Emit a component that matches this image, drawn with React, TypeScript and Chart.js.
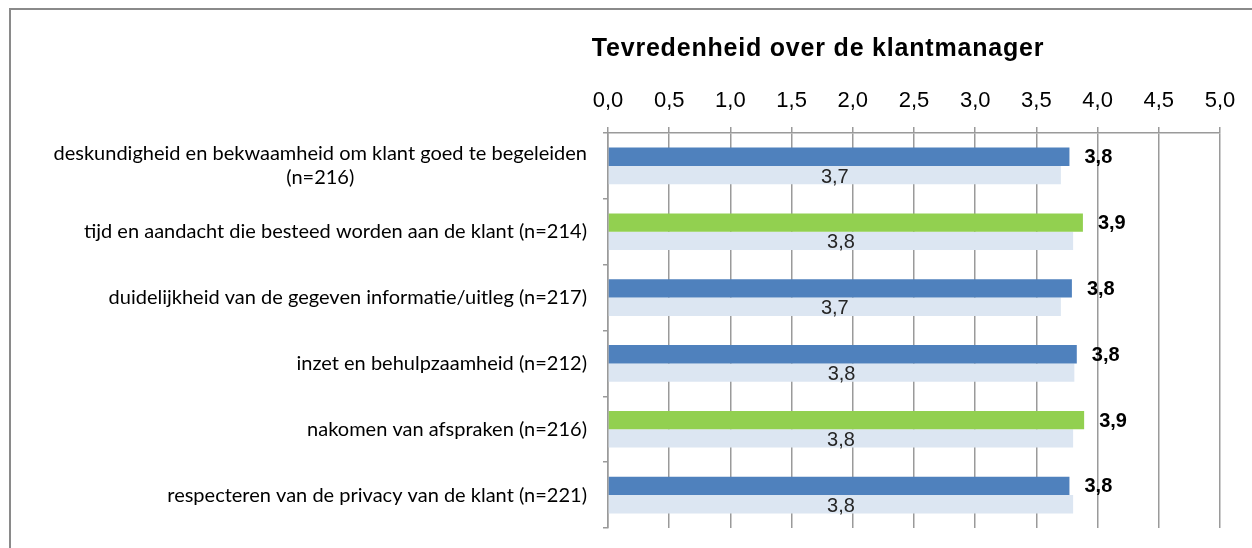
import React, { useEffect, useRef } from 'react';
import { Chart, registerables } from 'chart.js';

Chart.register(...registerables);

const TITLE = 'Tevredenheid over de klantmanager';

const categories: string[][] = [
  ['deskundigheid en bekwaamheid om klant goed te begeleiden', '(n=216)'],
  ['tijd en aandacht die besteed worden aan de klant (n=214)'],
  ['duidelijkheid van de gegeven informatie/uitleg (n=217)'],
  ['inzet en behulpzaamheid (n=212)'],
  ['nakomen van afspraken (n=216)'],
  ['respecteren van de privacy van de klant (n=221)'],
];

const currentScores = [3.77, 3.88, 3.79, 3.83, 3.89, 3.77];
const previousScores = [3.7, 3.8, 3.7, 3.81, 3.8, 3.8];
const highlightedCategories = [1, 4];

const axisMin = 0;
const axisMax = 5;
const axisStep = 0.5;

const BLUE = '#4F81BD';
const GREEN = '#92D050';
const LIGHT = '#DCE6F2';
const GRID = '#9a9a9a';
const LABEL_FONT = 'Lato, "Liberation Sans", sans-serif';
const ARIAL = '"Liberation Sans", Arial, sans-serif';

const fmt = (v: number) => v.toFixed(1).replace('.', ',');

const overlayPlugin = {
  id: 'overlay',
  afterDraw(chart: any) {
    const ctx = chart.ctx as CanvasRenderingContext2D;
    const area = chart.chartArea;
    const yScale = chart.scales.y;
    ctx.save();

    // title
    ctx.font = `bold 25px ${ARIAL}`;
    (ctx as any).letterSpacing = '0.8px';
    ctx.fillStyle = '#000';
    ctx.textAlign = 'center';
    ctx.textBaseline = 'middle';
    ctx.fillText(TITLE, 818, 49);
    (ctx as any).letterSpacing = '0px';

    // category labels: block right aligned, lines centered inside block
    ctx.font = `20px ${LABEL_FONT}`;
    const lineH = 24;
    const rightEdge = area.left - 21;
    categories.forEach((lines, i) => {
      const yc = yScale.getPixelForValue(i);
      const widths = lines.map((l) => ctx.measureText(l).width);
      const blockW = Math.max(...widths);
      const cx = rightEdge - blockW / 2;
      const y0 = yc - ((lines.length - 1) * lineH) / 2;
      ctx.textAlign = 'center';
      ctx.textBaseline = 'middle';
      lines.forEach((l, j) => ctx.fillText(l, cx, y0 + j * lineH));
    });

    // data labels
    const m0 = chart.getDatasetMeta(0);
    m0.data.forEach((bar: any, i: number) => {
      ctx.font = `bold 20px ${ARIAL}`;
      ctx.fillStyle = '#000';
      ctx.textAlign = 'left';
      ctx.textBaseline = 'middle';
      ctx.fillText(fmt(currentScores[i]), bar.x + 15, bar.y + 1);
    });
    const m1 = chart.getDatasetMeta(1);
    m1.data.forEach((bar: any, i: number) => {
      ctx.font = `20px ${ARIAL}`;
      ctx.fillStyle = '#262626';
      ctx.textAlign = 'center';
      ctx.textBaseline = 'middle';
      ctx.fillText(fmt(previousScores[i]), (bar.x + bar.base) / 2, bar.y + 2);
    });
    ctx.restore();
  },
};

export default function App() {
  const ref = useRef<HTMLCanvasElement | null>(null);

  useEffect(() => {
    if (!ref.current) return;
    const chart = new Chart(ref.current, {
      type: 'bar',
      data: {
        labels: categories.map((c) => c.join(' ')),
        datasets: [
          {
            label: 'huidig',
            data: currentScores,
            backgroundColor: currentScores.map((_, i) =>
              highlightedCategories.includes(i) ? GREEN : BLUE
            ),
            borderWidth: 0,
            categoryPercentage: 0.556,
            barPercentage: 1,
          },
          {
            label: 'vorig',
            data: previousScores,
            backgroundColor: LIGHT,
            borderWidth: 0,
            categoryPercentage: 0.556,
            barPercentage: 1,
          },
        ],
      },
      options: {
        indexAxis: 'y',
        responsive: false,
        animation: false,
        layout: { padding: { left: 0, top: 0, right: 32, bottom: 20 } },
        plugins: {
          legend: { display: false },
          title: { display: false },
          tooltip: { enabled: false },
        },
        scales: {
          x: {
            position: 'top',
            min: axisMin,
            max: axisMax,
            afterFit: (s: any) => {
              s.height = 133;
            },
            ticks: {
              stepSize: axisStep,
              padding: 13,
              color: '#000',
              font: { family: ARIAL, size: 22 },
              callback: (v: any) => fmt(Number(v)),
            },
            grid: {
              color: GRID,
              lineWidth: 1.5,
              tickLength: 6,
              drawTicks: true,
            },
            border: { display: true, color: GRID, width: 1.5 },
          },
          y: {
            afterFit: (s: any) => {
              s.width = 608;
            },
            ticks: { display: false },
            grid: {
              offset: true,
              drawOnChartArea: false,
              drawTicks: true,
              tickLength: 5,
              color: GRID,
              lineWidth: 1.5,
            },
            border: { display: true, color: GRID, width: 1.5 },
          },
        },
      },
      plugins: [overlayPlugin],
    } as any);
    return () => chart.destroy();
  }, []);

  return (
    <div
      style={{
        position: 'fixed',
        left: 0,
        top: 0,
        width: 1252,
        height: 548,
        overflow: 'hidden',
        background: '#fff',
      }}
    >
      <div
        style={{
          position: 'absolute',
          left: 9,
          top: 8,
          width: 1400,
          height: 700,
          border: '2px solid #8a8a8a',
          boxSizing: 'border-box',
        }}
      />
      <canvas
        ref={ref}
        width={1252}
        height={548}
        style={{ position: 'absolute', left: 0, top: 0, width: 1252, height: 548 }}
      />
    </div>
  );
}
